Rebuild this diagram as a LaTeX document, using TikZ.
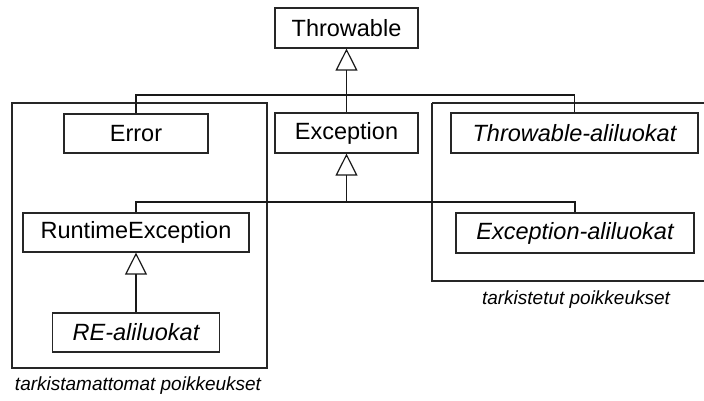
\documentclass[tikz,border=0pt]{standalone}
\usepackage{fontspec}
\setmainfont{Liberation Sans}
\usetikzlibrary{arrows.meta}
\begin{document}
\begin{tikzpicture}[x=1pt,y=-1pt,
  cls/.style={draw=black!85,line width=1.2pt,fill=white,inner sep=0pt,font=\fontsize{23.5}{27}\selectfont},
  grp/.style={draw=black!85,line width=1.2pt},
  conn/.style={draw=black!90,line width=1.2pt},
  gen/.style={conn,-{Triangle[open,width=22pt,length=22pt,line width=1.2pt]}},
  lab/.style={font=\fontsize{19}{22}\selectfont\itshape,inner sep=0pt}]
\useasboundingbox (0,0) rectangle (704,401);
\draw[grp] (12,103) rectangle (267,368);
\draw[grp] (432,103) -- (432,281) -- (706,281);
\draw[grp] (432,103) -- (706,103);
\node[cls,minimum width=143pt,minimum height=40pt] (thr) at (346.5,28) {Throwable};
\node[cls,minimum width=144pt,minimum height=39pt] (err) at (136,133.5) {Error};
\node[cls,minimum width=143pt,minimum height=40pt] (exc) at (346.5,133) {Exception};
\node[cls,minimum width=247pt,minimum height=40pt] (tal) at (574.5,133) {\itshape Throwable-aliluokat};
\node[cls,minimum width=226pt,minimum height=39pt] (rte) at (136,232.5) {RuntimeException};
\node[cls,minimum width=238pt,minimum height=40pt] (eal) at (575,233) {\itshape Exception-aliluokat};
\node[cls,minimum width=167pt,minimum height=39pt] (real) at (136,332.5) {\itshape RE-aliluokat};
\coordinate (j1) at (346.5,95);
\coordinate (j2) at (346.5,202);
\draw[conn] (err.north) |- (j1);
\draw[conn] (tal.north) |- (j1);
\draw[gen] (exc.north) -- (thr.south);
\draw[conn] (rte.north) |- (j2);
\draw[conn] (eal.north) |- (j2);
\draw[gen] (j2) -- (exc.south);
\draw[gen] (real.north) -- (rte.south);
\node[lab] (l1) at (576,300) {tarkistetut poikkeukset};
\node[lab] (l2) at (138,386) {tarkistamattomat poikkeukset};
\end{tikzpicture}
\end{document}
